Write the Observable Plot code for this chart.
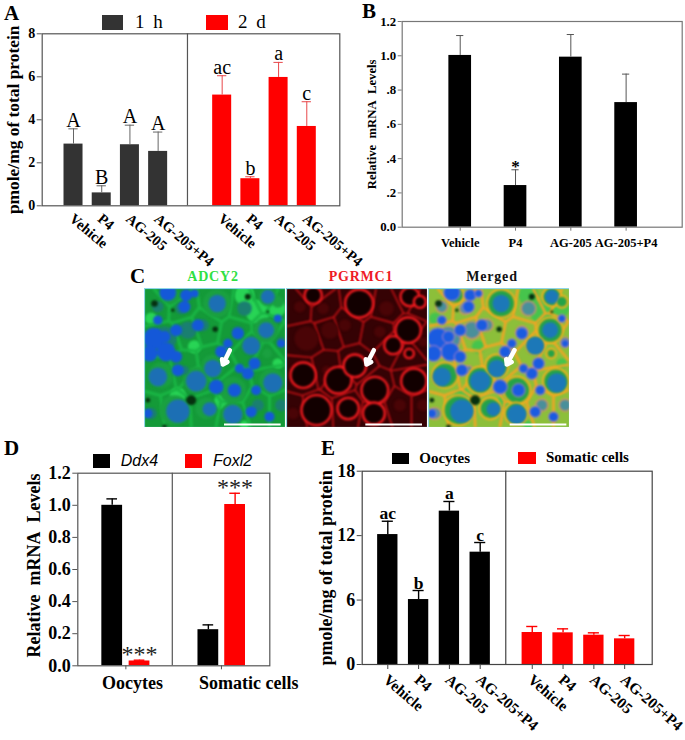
<!DOCTYPE html>
<html><head><meta charset="utf-8">
<script src="https://cdn.jsdelivr.net/npm/d3@7"></script>
<script src="https://cdn.jsdelivr.net/npm/@observablehq/plot@0.6"></script>
<style>
html,body{margin:0;padding:0;background:#fff}
#page{position:relative;width:685px;height:740px;overflow:hidden;font-family:"Liberation Serif",serif}
#page>svg,#page>div{position:absolute}
.lb{white-space:pre;line-height:normal}
</style></head><body><div id="page"></div>
<script>
const serif = "Liberation Serif";
const BLACK = "#000", DARK = "#333", RED = "#f00";

// Treatment names
const treatments = ["Vehicle","P4","AG-205","AG-205+P4"];

// Panel A
const aSlots = [1,2,3,4,6.27,7.27,8.27,9.27];
const aValues = [2.87,0.6,2.84,2.53,5.15,1.26,5.97,3.69];
const aErrors = [3.58,0.93,3.75,3.43,6.05,1.35,6.67,4.84];
const aLetters = ["A","B","A","A","ac","b","a","c"];
const aColors = [DARK,DARK,DARK,DARK,RED,RED,RED,RED];
const aTicks = [0,2,4,6,8];

// Panel B
const bSlots = [1,2,3,4];
const bValues = [1.002,0.243,0.992,0.727];
const bErrors = [1.118,0.335,1.124,0.893];
const bTicks = [0,0.2,0.4,0.6,0.8,1,1.2];
const bTickLabels = ["0.0",".2",".4",".6",".8","1.0","1.2"];

// Panel D
const dSlots = [1,2,4.52,5.5];
const dValues = [1.0,0.03,0.225,1.005];
const dErrors = [1.04,0.035,0.255,1.075];
const dColors = [BLACK,RED,BLACK,RED];
const dMarks = ["","***","","***"];
const dGroups = ["Oocytes","Somatic cells"];
const dGroupTicks = [1.5,5];
const dGroupLabelAt = [1.74,6];
const dTicks = [0,0.2,0.4,0.6,0.8,1,1.2];

// Panel E
const eSlots = [1,2,3,4,5.69,6.69,7.69,8.69];
const eValues = [12.1,6.05,14.28,10.46,2.98,2.95,2.73,2.39];
const eErrors = [13.34,6.89,15.18,11.36,3.54,3.32,2.95,2.7];
const eLetters = ["ac","b","a","c","","","",""];
const eColors = [BLACK,BLACK,BLACK,BLACK,RED,RED,RED,RED];
const eTicks = [0,6,12,18];

// Panel C micrograph: [x, y, radius]
const bigCells = [[218,45,42],[365,125,38],[265,305,40],[155,275,40],[50,260,38],[90,365,45],[262,375,33],[382,278,38],[205,232,34],[320,170,27],[185,360,32],[80,20,26],[370,25,28],[368,195,14],[400,40,18]];
const faintCells = [[60,150,36],[130,125,26],[40,55,17],[110,60,17],[300,60,22],[340,350,18],[20,375,17],[120,245,13],[175,110,18],[280,130,17],[410,160,14],[410,350,18]];
const bigNuclei = [[218,45,26],[365,125,24],[40,265,28],[155,278,31],[100,368,35],[265,378,29],[385,283,29],[205,240,26],[320,172,27],[195,362,21],[370,25,21]];
const smallNuclei = [[70,12,25],[125,20,18],[120,55,18],[28,150,32],[65,190,28],[15,195,24],[95,125,18],[160,110,18],[100,245,18],[215,295,22],[270,305,20],[310,255,18],[330,225,18],[335,305,15],[280,135,18],[230,190,18],[10,375,14],[400,90,12],[410,165,12],[60,145,18],[320,370,17],[375,385,15],[95,205,18],[40,95,14],[250,165,14],[285,240,14],[150,15,12]];
const darkSpots = [[310,25,9],[212,122,8],[140,335,15],[55,180,7],[30,45,10],[370,70,4],[85,65,5],[10,335,7],[60,415,7]];
const greenGlow = [[300,20,30],[340,70,36],[395,60,28],[100,320,24],[230,340,22],[400,225,16],[300,410,14],[20,90,18],[150,175,20]];
const arrowTails = [[256,185],[262,185],[258,185]];
const arrowHeads = [[235,228],[240,228],[235,228]];
const scaleBars = [[240,410],[238,408],[245,415]];

const page = document.getElementById("page");
const svgStyle = {background:"none",overflow:"visible",fontFamily:serif,fontWeight:"bold"};

function label(text, x, base, size, opts = {}) {
  const d = document.createElement("div");
  d.className = "lb";
  d.textContent = text;
  d.style.fontSize = size + "px";
  d.style.top = (base - 0.91 * size) + "px";
  d.style.fontWeight = opts.weight || "bold";
  if (opts.center) { d.style.left = x + "px"; d.style.transform = "translateX(-50%)"; }
  else d.style.left = x + "px";
  if (opts.color) d.style.color = opts.color;
  if (opts.spacing) d.style.letterSpacing = opts.spacing + "px";
  if (opts.family) d.style.fontFamily = opts.family;
  if (opts.italic) d.style.fontStyle = "italic";
  page.appendChild(d);
}
function swatch(x, y, w, h, color) {
  const d = document.createElement("div");
  Object.assign(d.style,{left:x+"px",top:y+"px",width:w+"px",height:h+"px",background:color});
  page.appendChild(d);
}

function barPanel(c) {
  const rows = c.slots.map((s,i)=>({slot:s,value:c.values[i],err:c.errors[i],fill:c.colors[i],i}));
  const m = c.frame;
  const fmt = c.tickLabels ? new Map(c.ticks.map((t,i)=>[t,c.tickLabels[i]])) : null;
  const svg = Plot.plot({
    width:c.w, height:c.h,
    marginLeft:m[0]-c.left, marginRight:c.left+c.w-m[1], marginTop:m[2]-c.top, marginBottom:c.top+c.h-m[3],
    style:svgStyle,
    x:{domain:c.domainX,label:null},
    y:{domain:[0,c.ticks[c.ticks.length-1]],label:null},
    marks:[
      Plot.rect(rows,{x1:d=>d.slot-c.half,x2:d=>d.slot+c.half,y1:0,y2:"value",fill:"fill"}),
      Plot.ruleX(rows,{x:"slot",y1:"value",y2:"err",stroke:d=>c.errColor?c.errColor(d):d.fill,strokeWidth:c.errWidth||1}),
      Plot.ruleY(rows,{y:"err",x1:d=>d.slot-c.cap,x2:d=>d.slot+c.cap,stroke:d=>c.errColor?c.errColor(d):d.fill,strokeWidth:c.errWidth||1}),
      Plot.frame({stroke:c.frameColor,strokeWidth:1.2}),
      c.divider!=null?Plot.ruleX([c.divider],{stroke:c.frameColor,strokeWidth:1.2}):null,
      Plot.axisY({ticks:c.ticks,tickFormat:fmt?(d=>fmt.get(d)):(d=>c.tickFixed?d.toFixed(1):d),fontSize:c.tickFont,tickSize:c.tickSize||5,tickPadding:2,label:null,stroke:c.frameColor}),
      Plot.axisX({ticks:c.xTicks||c.slots,tickFormat:()=>"",tickSize:c.xTickSize,label:null,stroke:c.frameColor}),
      Plot.text([c.title],{frameAnchor:"left",textAnchor:"middle",rotate:-90,dx:c.titleDx,dy:c.titleDy||0,fontSize:c.titleFont,text:d=>d,lineAnchor:"middle"}),
      ...(c.extra?c.extra(rows):[])
    ]
  });
  svg.style.left = c.left+"px"; svg.style.top = c.top+"px";
  page.appendChild(svg);
}

function slanted(slots, font, dy, angle) {
  const rows = slots.map((s,i)=>({slot:s,name:treatments[i%4]}));
  return [Plot.text(rows,{x:"slot",frameAnchor:"bottom",text:"name",rotate:angle,textAnchor:"start",lineAnchor:"middle",dy,dx:-2,fontSize:font})];
}

// A
barPanel({left:0,top:0,w:345,h:262,frame:[41.7,339.3,33.3,205.3],domainX:[-0.11,10.44],
  slots:aSlots,values:aValues,errors:aErrors,colors:aColors,half:.337,cap:.165,divider:5.04,frameColor:"#555",
  errColor:d=>d.fill===RED?"#e8474a":"#666",ticks:aTicks,tickFont:14,xTickSize:0,
  title:"pmole/mg of total protein",titleFont:17.4,titleDx:-29,
  extra:rows=>[
    Plot.text(rows,{x:"slot",y:"err",text:d=>aLetters[d.i],dy:-2,lineAnchor:"bottom",fontSize:20,fontWeight:"normal"}),
    ...slanted(aSlots,14.5,11,40)
  ]});
// B
barPanel({left:350,top:0,w:335,h:255,frame:[401.7,681.7,21,226.7],domainX:[-0.049,5.014],
  slots:bSlots,values:bValues,errors:bErrors,colors:[BLACK,BLACK,BLACK,BLACK],half:.205,cap:.065,frameColor:"#777",
  errColor:()=>"#555",ticks:bTicks,tickLabels:bTickLabels,tickFont:12.8,tickSize:4,xTickSize:4,
  title:"Relative\u00a0\u00a0mRNA\u00a0\u00a0Levels",titleFont:12.7,titleDx:-30,
  extra:rows=>[
    Plot.text(rows,{x:"slot",y:"err",text:d=>d.slot===2?"*":"",dy:2,lineAnchor:"bottom",fontSize:17}),
    Plot.text(rows,{x:"slot",frameAnchor:"bottom",text:d=>treatments[d.i],lineAnchor:"middle",dy:16,fontSize:12.5})
  ]});
// D
barPanel({left:0,top:435,w:320,h:260,frame:[77.3,269.3,472.7,665.3],domainX:[-0.26,6.77],
  slots:dSlots,values:dValues,errors:dErrors,colors:dColors,half:.38,cap:.195,divider:3.2,frameColor:"#555",errWidth:1.4,
  ticks:dTicks,tickFixed:true,tickFont:18,xTicks:dGroupTicks,xTickSize:4,
  title:"Relative\u00a0\u00a0mRNA\u00a0\u00a0Levels",titleFont:18,titleDx:-44,titleDy:-4,
  extra:rows=>[
    Plot.text(rows,{x:"slot",y:"err",text:d=>dMarks[d.i],lineAnchor:"top",fontSize:24,fontWeight:"normal",fill:"#222",letterSpacing:3,dy:-15}),
    Plot.text(dGroups,{x:d=>dGroupLabelAt[dGroups.indexOf(d)],frameAnchor:"bottom",text:d=>d,lineAnchor:"middle",dy:17,fontSize:18})
  ]});
// E
barPanel({left:320,top:435,w:365,h:305,frame:[361.7,651.7,470.7,664],domainX:[0.169,9.584],
  slots:eSlots,values:eValues,errors:eErrors,colors:eColors,half:.33,cap:.18,divider:4.83,frameColor:"#444",errWidth:1.4,
  ticks:eTicks,tickFont:18,xTickSize:5,
  title:"pmole/mg of total protein",titleFont:18,titleDx:-36,
  extra:rows=>[
    Plot.text(rows,{x:"slot",y:"err",text:d=>eLetters[d.i],dy:-2,lineAnchor:"bottom",fontSize:17.5}),
    ...slanted(eSlots,15.3,13,41)
  ]});

// C
function micrograph(i, left, draw) {
  const [ax,ay]=arrowTails[i], [bx,by]=arrowHeads[i], [s0,s1]=scaleBars[i];
  const svg = Plot.plot({
    width:141,height:139,margin:0,
    style:{background:"none",overflow:"hidden"},
    x:{domain:[0,423],range:[0,141],axis:null},
    y:{domain:[0,417],range:[0,139],axis:null},
    r:{type:"identity"},
    marks:[
      ...draw(),
      Plot.ruleY([408],{x1:()=>s0,x2:()=>s1,stroke:"#fff",strokeWidth:1.8}),
      Plot.arrow([0],{x1:()=>ax,y1:()=>ay,x2:()=>bx,y2:()=>by,stroke:"#fff",strokeWidth:4.5,headLength:5,headAngle:70,bend:false}),
      Plot.frame({stroke:"#8fd7e6",strokeWidth:1.2})
    ]
  });
  svg.querySelectorAll('g[aria-label="dot"],g[aria-label="voronoi mesh"]').forEach(g=>g.style.filter="blur(1.2px)");
  svg.style.left=left+"px"; svg.style.top="288px";
  page.appendChild(svg);
}
const dots=(list,style)=>Plot.dot(list,{x:d=>d[0],y:d=>d[1],r:d=>d[2]/3,...style});
const allCells=[...bigCells,...faintCells];
const mesh=(stroke,strokeWidth,strokeOpacity)=>Plot.voronoiMesh(allCells,{x:d=>d[0],y:d=>d[1],stroke,strokeWidth,strokeOpacity});
micrograph(0,143.5,()=>[
  Plot.frame({fill:"#149a38"}),
  dots(greenGlow,{fill:"#28d455"}),
  mesh("#19b544",3,1),
  dots(bigCells,{fill:"#1aa040"}),
  dots(faintCells,{fill:"#1a7f70"}),
  dots(darkSpots,{fill:"#06300f"}),
  dots(smallNuclei,{fill:"#1458d8"}),
  dots(bigNuclei,{fill:"#1c6fb4"})
]);
micrograph(1,286,()=>[
  Plot.frame({fill:"#350204"}),
  mesh("#e81318",1.6,.8),
  dots(faintCells,{fill:"#4a0406"}),
  dots(bigCells,{fill:"#120000",stroke:"#f51a1f",strokeWidth:2.4}),
]);
micrograph(2,427.5,()=>[
  Plot.frame({fill:"#8cbf3a"}),
  dots(greenGlow,{fill:"#46c44c"}),
  mesh("#f2a524",2.6,1),
  dots(faintCells,{fill:"#4a8f9a",stroke:"#e88a70",strokeWidth:1.2}),
  dots(bigCells,{fill:"#25a348",stroke:"#f7b01c",strokeWidth:2}),
  dots(darkSpots,{fill:"#06300f"}),
  dots(smallNuclei,{fill:"#1a5be0",stroke:"#d98ac0",strokeWidth:.8}),
  dots(bigNuclei,{fill:"#1c78b8"})
]);

// Text and legends outside the frames
label("A",4,20,21);
label("B",362,18,21);
label("C",130,283,21);
label("D",4,455,21);
label("E",321,455,21);

swatch(101.7,15,21.6,15,DARK);
label("1 h",135,28,19,{weight:"normal",spacing:2});
swatch(205.7,15,22.3,15,RED);
label("2 d",238,28,19,{weight:"normal",spacing:2});

label("ADCY2",213,282,14,{center:true,color:"#2fe043",spacing:.8});
label("PGRMC1",361,282,14,{center:true,color:"#ee1c25",spacing:.8});
label("Merged",492,282,14,{center:true,color:"#111",spacing:.8});

swatch(92.7,454,17.3,13.7,BLACK);
label("Ddx4",120.7,467,16,{weight:"normal",italic:true,family:"Liberation Sans"});
swatch(185,454,17.3,13.7,RED);
label("Foxl2",213,467,16,{weight:"normal",italic:true,family:"Liberation Sans"});

swatch(391.7,453,17.6,11.3,BLACK);
label("Oocytes",419.3,463.3,15);
swatch(518.3,452,17.7,12,RED);
label("Somatic cells",546,462.7,15);
</script></body></html>
